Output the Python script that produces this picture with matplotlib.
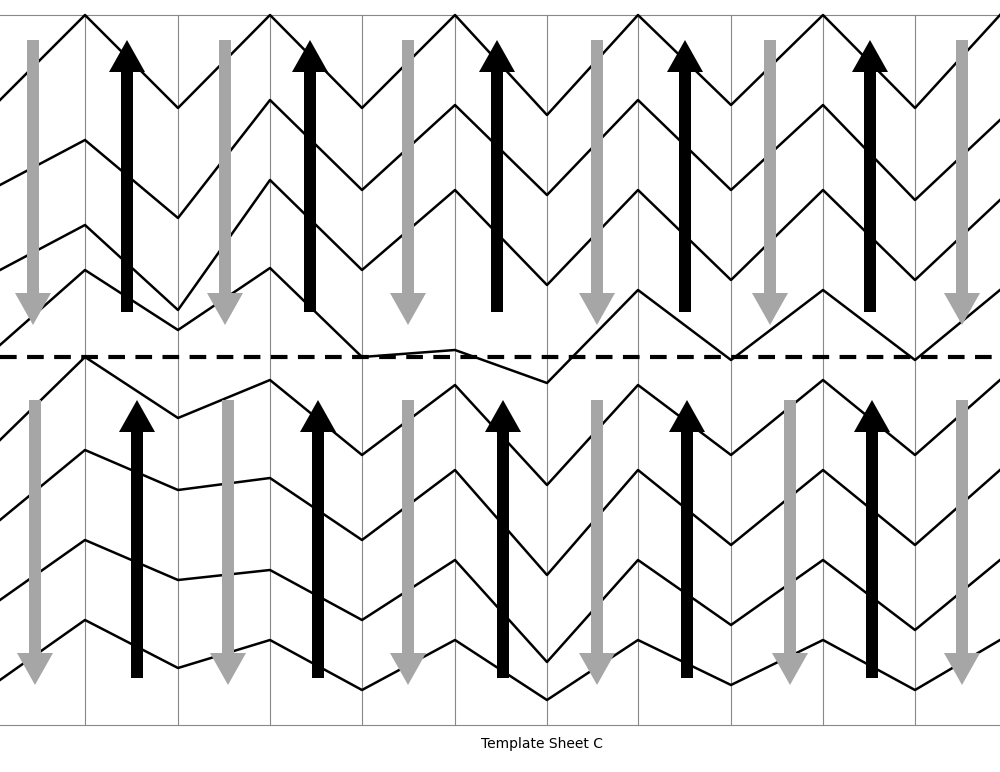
import matplotlib
matplotlib.use("Agg")
import matplotlib.pyplot as plt
from matplotlib.patches import FancyArrow

# vertex x positions of the zigzags (pixel space)
zig_x = [0, 85, 178, 270, 362, 455, 547, 638, 731, 823, 915, 1000]
top_lines = [
    [100, 15, 108, 15, 108, 15, 115, 15, 105, 15, 108, 15],
    [185, 140, 218, 100, 190, 105, 195, 100, 190, 105, 200, 120],
    [270, 225, 310, 180, 270, 190, 285, 190, 280, 190, 280, 200],
    [345, 270, 330, 268, 357, 350, 383, 290, 360, 290, 360, 290],
]
bottom_lines = [
    [440, 357, 418, 380, 455, 385, 485, 385, 455, 380, 455, 380],
    [520, 450, 490, 478, 540, 470, 575, 470, 545, 470, 545, 470],
    [600, 540, 580, 570, 620, 560, 662, 560, 625, 560, 630, 560],
    [680, 620, 668, 640, 690, 640, 700, 640, 685, 640, 690, 640],
]
grid_x = [85, 178, 270, 362, 455, 547, 638, 731, 823, 915]

grey_x_top = [33, 225, 408, 597, 770, 962]
black_x_top = [127, 310, 497, 685, 870]
grey_x_bot = [35, 228, 408, 597, 790, 962]
black_x_bot = [137, 318, 503, 687, 872]

fig = plt.figure(figsize=(10, 7.72), dpi=100)
ax = fig.add_axes([0, 0, 1, 1])
ax.set_xlim(0, 1000)
ax.set_ylim(772, 0)
ax.axis("off")

for gx in grid_x:
    ax.plot([gx, gx], [15, 725], color="#888888", lw=0.8)
ax.plot([0, 1000], [15, 15], color="#888888", lw=0.8)
ax.plot([0, 1000], [725, 725], color="#888888", lw=0.8)

for ys in top_lines + bottom_lines:
    ax.plot(zig_x, ys, color="black", lw=1.8, zorder=2)

ax.plot([0, 1000], [357, 357], color="black", lw=3, ls=(0, (4, 2.5)), zorder=2)


def arrow(x, y0, y1, color):
    ax.add_patch(FancyArrow(x, y0, 0, y1 - y0, width=12, head_width=36,
                            head_length=32, length_includes_head=True,
                            color=color, lw=0, zorder=3))


for x in grey_x_top:
    arrow(x, 40, 325, "#a6a6a6")
for x in black_x_top:
    arrow(x, 312, 40, "black")
for x in grey_x_bot:
    arrow(x, 400, 685, "#a6a6a6")
for x in black_x_bot:
    arrow(x, 678, 400, "black")

ax.text(542, 744, "Template Sheet C", ha="center", va="center", fontsize=10)

fig.savefig("out.png", dpi=100)
